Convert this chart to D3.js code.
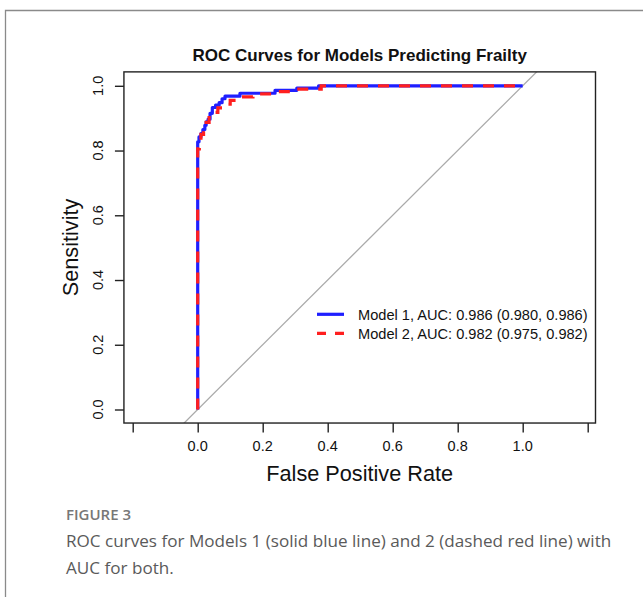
<!DOCTYPE html>
<html>
<head>
<meta charset="utf-8">
<script src="https://cdn.jsdelivr.net/npm/d3@7"></script>
<style>
  body { margin: 0; background: #fff; }
  svg { display: block; }
</style>
</head>
<body>
<div id="chart"></div>
<script>
// ROC points (false positive rate, sensitivity)
const model1Fpr = [0, 0, 0.004, 0.004, 0.010, 0.010, 0.016, 0.016, 0.022, 0.022, 0.026, 0.026, 0.032, 0.032, 0.038, 0.038, 0.045, 0.045, 0.055, 0.055, 0.066, 0.066, 0.075, 0.075, 0.084, 0.084, 0.130, 0.130, 0.238, 0.238, 0.305, 0.305, 0.372, 0.372, 1.0]
const model1Tpr = [0, 0.827, 0.827, 0.842, 0.842, 0.852, 0.852, 0.865, 0.865, 0.878, 0.878, 0.889, 0.889, 0.897, 0.897, 0.915, 0.915, 0.933, 0.933, 0.940, 0.940, 0.948, 0.948, 0.960, 0.960, 0.968, 0.968, 0.977, 0.977, 0.986, 0.986, 0.993, 0.993, 1.0, 1.0]

const model2Fpr = [0, 0, 0.005, 0.005, 0.010, 0.010, 0.018, 0.018, 0.026, 0.026, 0.035, 0.035, 0.048, 0.048, 0.062, 0.062, 0.080, 0.080, 0.100, 0.100, 0.130, 0.130, 0.170, 0.170, 0.240, 0.240, 0.300, 0.300, 0.380, 0.380, 1.0]
const model2Tpr = [0, 0.805, 0.805, 0.830, 0.830, 0.850, 0.850, 0.868, 0.868, 0.887, 0.887, 0.902, 0.902, 0.918, 0.918, 0.932, 0.932, 0.943, 0.943, 0.955, 0.955, 0.966, 0.966, 0.975, 0.975, 0.982, 0.982, 0.990, 0.990, 1.0, 1.0]

const xTicks = [-0.2, 0, 0.2, 0.4, 0.6, 0.8, 1.0, 1.2]
const xTickLabels = [0, 0.2, 0.4, 0.6, 0.8, 1.0]
const yTicks = [0, 0.2, 0.4, 0.6, 0.8, 1.0]
const legendLabels = ['Model 1, AUC: 0.986 (0.980, 0.986)', 'Model 2, AUC: 0.982 (0.975, 0.982)']

const width = 643
const height = 597
const font = '"Liberation Sans", Arial, Helvetica, sans-serif'

const svg = d3.select('#chart').append('svg').attr('width', width).attr('height', height)

// figure frame
svg.append('path')
  .attr('d', 'M643,10.5 H5.5 V597')
  .attr('fill', 'none')
  .attr('stroke', '#8a8a8a')
  .attr('stroke-width', 1.3)

const x = d3.scaleLinear().domain([0, 1]).range([197.7, 522.7])
const y = d3.scaleLinear().domain([0, 1]).range([409.5, 85.8])

const box = { x0: x(-0.227), x1: x(1.224), y0: y(1.043), y1: y(-0.0418) }

svg.append('clipPath').attr('id', 'clip')
  .append('rect')
  .attr('x', box.x0).attr('y', box.y0)
  .attr('width', box.x1 - box.x0).attr('height', box.y1 - box.y0)

const plot = svg.append('g').attr('clip-path', 'url(#clip)')

// reference diagonal
plot.append('line')
  .attr('x1', x(-0.1)).attr('y1', y(-0.1))
  .attr('x2', x(1.1)).attr('y2', y(1.1))
  .attr('stroke', '#aaaaaa')
  .attr('stroke-width', 1.3)

const line = d3.line().x(d => x(d[0])).y(d => y(d[1]))

plot.append('path')
  .datum(d3.zip(model1Fpr, model1Tpr))
  .attr('d', line)
  .attr('fill', 'none')
  .attr('stroke', '#1f1fff')
  .attr('stroke-width', 3.2)
  .attr('stroke-linejoin', 'round')

plot.append('path')
  .datum(d3.zip(model2Fpr, model2Tpr))
  .attr('d', line)
  .attr('fill', 'none')
  .attr('stroke', '#ff1f1f')
  .attr('stroke-width', 3.2)
  .attr('stroke-dasharray', '11,10')

// box
svg.append('rect')
  .attr('x', box.x0).attr('y', box.y0)
  .attr('width', box.x1 - box.x0).attr('height', box.y1 - box.y0)
  .attr('fill', 'none')
  .attr('stroke', '#222')
  .attr('stroke-width', 1.4)

// x axis
const xAxis = svg.append('g').attr('transform', `translate(0,${box.y1})`)
  .call(d3.axisBottom(x).tickValues(xTicks).tickSize(9.5).tickFormat(''))
xAxis.select('.domain').remove()
xAxis.selectAll('line').attr('stroke', '#222').attr('stroke-width', 1.4)

svg.append('g').selectAll('text')
  .data(xTickLabels)
  .join('text')
  .attr('x', d => x(d))
  .attr('y', 450.5)
  .attr('text-anchor', 'middle')
  .attr('font-family', font)
  .attr('font-size', 14.5)
  .attr('fill', '#111')
  .text(d3.format('.1f'))

// y axis
const yAxis = svg.append('g').attr('transform', `translate(${box.x0},0)`)
  .call(d3.axisLeft(y).tickValues(yTicks).tickSize(9).tickFormat(''))
yAxis.select('.domain').remove()
yAxis.selectAll('line').attr('stroke', '#222').attr('stroke-width', 1.4)

svg.append('g').selectAll('text')
  .data(yTicks)
  .join('text')
  .attr('transform', d => `translate(103,${y(d)}) rotate(-90)`)
  .attr('text-anchor', 'middle')
  .attr('font-family', font)
  .attr('font-size', 14.5)
  .attr('fill', '#111')
  .text(d3.format('.1f'))

// titles
svg.append('text')
  .attr('x', (box.x0 + box.x1) / 2)
  .attr('y', 61)
  .attr('text-anchor', 'middle')
  .attr('font-family', font)
  .attr('font-weight', 'bold')
  .attr('font-size', 17)
  .attr('fill', '#111')
  .text('ROC Curves for Models Predicting Frailty')

svg.append('text')
  .attr('x', (box.x0 + box.x1) / 2)
  .attr('y', 481)
  .attr('text-anchor', 'middle')
  .attr('font-family', font)
  .attr('font-size', 21.7)
  .attr('fill', '#111')
  .text('False Positive Rate')

svg.append('text')
  .attr('transform', `translate(78,${(box.y0 + box.y1) / 2}) rotate(-90)`)
  .attr('text-anchor', 'middle')
  .attr('font-family', font)
  .attr('font-size', 21.7)
  .attr('fill', '#111')
  .text('Sensitivity')

// legend
const legend = svg.append('g').attr('transform', 'translate(317,314.3)')
const legendColors = ['#1f1fff', '#ff1f1f']
const legendDash = [null, '9,9']
legendLabels.forEach((label, i) => {
  const row = legend.append('g').attr('transform', `translate(0,${i * 19})`)
  row.append('line')
    .attr('x1', 0).attr('x2', 27)
    .attr('stroke', legendColors[i])
    .attr('stroke-width', 3.2)
    .attr('stroke-dasharray', legendDash[i])
  row.append('text')
    .attr('x', 41).attr('y', 5.2)
    .attr('font-family', font)
    .attr('font-size', 14.6)
    .attr('fill', '#111')
    .text(label)
})

// caption
svg.append('text')
  .attr('x', 66).attr('y', 519.5)
  .attr('font-family', '"Open Sans", sans-serif')
  .attr('font-weight', 600)
  .attr('font-size', 15)
  .attr('fill', '#777')
  .text('FIGURE 3')

const caption = ['ROC curves for Models 1 (solid blue line) and 2 (dashed red line) with', 'AUC for both.']
svg.append('g').selectAll('text')
  .data(caption)
  .join('text')
  .attr('x', 66)
  .attr('y', (d, i) => 547 + i * 27)
  .attr('font-family', '"Open Sans", sans-serif')
  .attr('font-size', 17.1)
  .attr('fill', '#5a5a5a')
  .text(d => d)
</script>
</body>
</html>
